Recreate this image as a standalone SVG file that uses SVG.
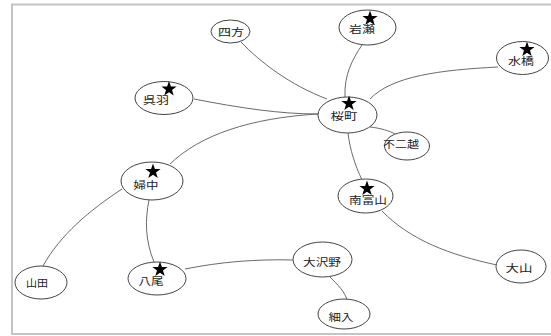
<svg xmlns="http://www.w3.org/2000/svg" xmlns:xlink="http://www.w3.org/1999/xlink" width="551" height="336" viewBox="0 0 551 336">
<style>
.frame{fill:#fff;stroke:#c4c4c4;stroke-width:2}
.edge{fill:none;stroke:#6a6a6a;stroke-width:1}
.node ellipse{fill:#fff;stroke:#444;stroke-width:1}
.node text{font-family:"Noto Sans CJK JP","Noto Sans CJK SC",sans-serif;font-size:10px;fill:#222;text-anchor:middle}
.star{fill:#000}
</style>
<defs>
<polygon id="star" points="0,-8 1.9,-2.6 7.6,-2.5 3,0.9 4.7,6.5 0,3.2 -4.7,6.5 -3,0.9 -7.6,-2.5 -1.9,-2.6"/>
</defs>
<rect class="frame" x="12" y="4.5" width="545" height="329.5"/>
<g id="connectors">
<path class="edge" d="M241,42 C260,62 290,85 327,99"/>
<path class="edge" d="M362,45 C352,60 344,75 345,97"/>
<path class="edge" d="M498,67 C440,70 392,76 370,99"/>
<path class="edge" d="M194,99 C240,108 280,114 318,114"/>
<path class="edge" d="M170,164 C200,135 250,118 318,114"/>
<path class="edge" d="M370,127 C380,128 390,131 395,134"/>
<path class="edge" d="M348,133 C350,150 355,165 362,180"/>
<path class="edge" d="M382,211 C410,240 450,255 497,265"/>
<path class="edge" d="M122,189 C90,210 60,235 43,266"/>
<path class="edge" d="M149,200 C145,220 145,240 154,262"/>
<path class="edge" d="M185,269 C220,262 255,259 293,260"/>
<path class="edge" d="M330,277 C338,285 345,292 347,300"/>
</g>
<g id="n-shiho" class="node"><ellipse cx="230.5" cy="31.5" rx="19.5" ry="11.5"/><text x="231" y="35.5" textLength="26" lengthAdjust="spacingAndGlyphs">四方</text></g>
<g id="n-kureha" class="node"><ellipse cx="164" cy="98" rx="29" ry="16.5"/><use href="#star" class="star" x="169" y="89"/><text x="156" y="103.5" textLength="26" lengthAdjust="spacingAndGlyphs">呉羽</text></g>
<g id="n-iwase" class="node"><ellipse cx="367.5" cy="27.5" rx="28.5" ry="17.5"/><use href="#star" class="star" x="370" y="18.5"/><text x="362" y="33" textLength="26" lengthAdjust="spacingAndGlyphs">岩瀬</text></g>
<g id="n-mizuhashi" class="node"><ellipse cx="522.5" cy="58" rx="26" ry="16.5"/><use href="#star" class="star" x="527" y="49.5"/><text x="521" y="64.5" textLength="26" lengthAdjust="spacingAndGlyphs">水橋</text></g>
<g id="n-sakuramachi" class="node"><ellipse cx="347.5" cy="115" rx="29.5" ry="18"/><use href="#star" class="star" x="349" y="103.5"/><text x="344" y="120" textLength="27" lengthAdjust="spacingAndGlyphs">桜町</text></g>
<g id="n-fujikoshi" class="node"><ellipse cx="407" cy="146" rx="22.5" ry="14"/><text x="401" y="148" textLength="36" lengthAdjust="spacingAndGlyphs">不二越</text></g>
<g id="n-fuchu" class="node"><ellipse cx="152" cy="181" rx="31" ry="19"/><use href="#star" class="star" x="153" y="171.5"/><text x="146" y="188.5" textLength="25" lengthAdjust="spacingAndGlyphs">婦中</text></g>
<g id="n-yamada" class="node"><ellipse cx="41" cy="282.5" rx="26" ry="16.5"/><text x="37" y="286.5" textLength="22" lengthAdjust="spacingAndGlyphs">山田</text></g>
<g id="n-yatsuo" class="node"><ellipse cx="157" cy="278.5" rx="29" ry="16.5"/><use href="#star" class="star" x="160" y="269.5"/><text x="151" y="284.5" textLength="25" lengthAdjust="spacingAndGlyphs">八尾</text></g>
<g id="n-minamitoyama" class="node"><ellipse cx="365.5" cy="196" rx="27.5" ry="17"/><use href="#star" class="star" x="367" y="188.5"/><text x="368" y="203.5" textLength="38" lengthAdjust="spacingAndGlyphs">南富山</text></g>
<g id="n-oyama" class="node"><ellipse cx="521" cy="266.5" rx="25" ry="16.5"/><text x="519" y="271.5" textLength="27" lengthAdjust="spacingAndGlyphs">大山</text></g>
<g id="n-osawano" class="node"><ellipse cx="322.5" cy="259.5" rx="29.5" ry="17.5"/><text x="322" y="266" textLength="38" lengthAdjust="spacingAndGlyphs">大沢野</text></g>
<g id="n-hosoiri" class="node"><ellipse cx="344" cy="314" rx="26" ry="15"/><text x="341" y="320.5" textLength="25" lengthAdjust="spacingAndGlyphs">細入</text></g>
</svg>
